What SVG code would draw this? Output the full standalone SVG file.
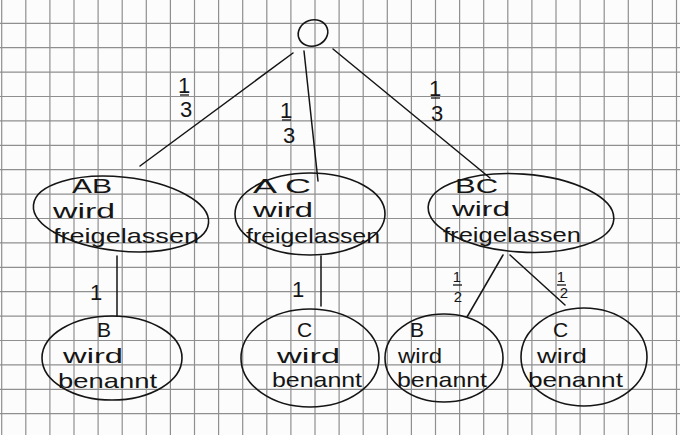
<svg xmlns="http://www.w3.org/2000/svg" width="680" height="435" viewBox="0 0 680 435">
<style>
.grid{stroke:#8f8f8f;stroke-width:1.2;fill:none}
.node{fill:none;stroke:#151515;stroke-width:1.6}
.edge{stroke:#151515;stroke-width:1.5;fill:none;stroke-linecap:round}
.t{font-family:"Liberation Sans",Arial,sans-serif;font-size:21px;fill:#151515}
.f{font-family:"Liberation Sans",Arial,sans-serif;font-size:22px;fill:#151515;text-anchor:middle}
.h{font-size:15px}
.bar{stroke:#151515;stroke-width:1.3}
</style>
<rect width="680" height="435" fill="#fcfcfc"/>
<path class="grid" d="M1.7 0V435M25.8 0V435M49.9 0V435M74 0V435M98.1 0V435M122.2 0V435M146.3 0V435M170.4 0V435M194.5 0V435M218.6 0V435M242.7 0V435M266.8 0V435M290.9 0V435M315 0V435M339.1 0V435M363.2 0V435M387.3 0V435M411.4 0V435M435.5 0V435M459.6 0V435M483.7 0V435M507.8 0V435M531.9 0V435M556 0V435M580.1 0V435M604.2 0V435M628.3 0V435M652.4 0V435M676.5 0V435
M0 23.3H680M0 47.7H680M0 72.1H680M0 96.5H680M0 120.9H680M0 145.3H680M0 169.7H680M0 194.1H680M0 218.5H680M0 242.9H680M0 267.3H680M0 291.7H680M0 316.1H680M0 340.5H680M0 364.9H680M0 389.3H680M0 413.7H680"/>
<g id="connectors">
<line class="edge" x1="293" y1="53" x2="140" y2="166"/>
<line class="edge" x1="304" y1="51" x2="318" y2="181"/>
<line class="edge" x1="333" y1="49" x2="490" y2="178"/>
<line class="edge" x1="117" y1="256" x2="117" y2="316"/>
<line class="edge" x1="321" y1="256" x2="321" y2="306"/>
<line class="edge" x1="503" y1="255" x2="467" y2="317"/>
<line class="edge" x1="510" y1="255" x2="565" y2="305"/>
<g id="edge-labels">
<text class="f" x="184" y="93">1</text><line class="bar" x1="180" y1="95" x2="189" y2="95"/><text class="f" x="186" y="117">3</text>
<text class="f" x="286" y="118">1</text><line class="bar" x1="282" y1="120" x2="291" y2="120"/><text class="f" x="289" y="143">3</text>
<text class="f" x="435" y="96">1</text><line class="bar" x1="431" y1="98" x2="440" y2="98"/><text class="f" x="437" y="121">3</text>
<text class="f" x="96" y="300">1</text>
<text class="f" x="298" y="297">1</text>
<text class="f h" x="457" y="282">1</text><line class="bar" x1="453" y1="285" x2="462" y2="285"/><text class="f h" x="458" y="302">2</text>
<text class="f h" x="561" y="282">1</text><line class="bar" x1="557" y1="285" x2="566" y2="285"/><text class="f h" x="564" y="298">2</text>
</g>
</g>
<g id="root">
<ellipse class="node" cx="313" cy="33" rx="15" ry="13" transform="rotate(-20 313 33)"/>
</g>
<g id="AB">
<ellipse class="node" cx="121" cy="214" rx="88" ry="37" transform="rotate(6 121 214)"/>
<text class="t" x="72" y="193" textLength="40" lengthAdjust="spacingAndGlyphs">AB</text>
<text class="t" x="53" y="218" textLength="62" lengthAdjust="spacingAndGlyphs">wird</text>
<text class="t" x="53" y="243" textLength="146" lengthAdjust="spacingAndGlyphs">freigelassen</text>
</g>
<g id="AC">
<ellipse class="node" cx="310" cy="214" rx="75" ry="41"/>
<text class="t" x="253" y="193" textLength="58" lengthAdjust="spacingAndGlyphs">A C</text>
<text class="t" x="253" y="217" textLength="60" lengthAdjust="spacingAndGlyphs">wird</text>
<text class="t" x="246" y="243" textLength="134" lengthAdjust="spacingAndGlyphs">freigelassen</text>
</g>
<g id="BC">
<ellipse class="node" cx="521" cy="213" rx="93" ry="39" transform="rotate(4 521 213)"/>
<text class="t" x="455" y="193" textLength="43" lengthAdjust="spacingAndGlyphs">BC</text>
<text class="t" x="452" y="216" textLength="58" lengthAdjust="spacingAndGlyphs">wird</text>
<text class="t" x="443" y="242" textLength="138" lengthAdjust="spacingAndGlyphs">freigelassen</text>
</g>
<g id="B1">
<ellipse class="node" cx="112" cy="358" rx="70" ry="42"/>
<text class="t" x="97" y="337">B</text>
<text class="t" x="63" y="363" textLength="60" lengthAdjust="spacingAndGlyphs">wird</text>
<text class="t" x="58" y="388" textLength="99" lengthAdjust="spacingAndGlyphs">benannt</text>
</g>
<g id="C1">
<ellipse class="node" cx="310" cy="358" rx="69" ry="49"/>
<text class="t" x="297" y="337">C</text>
<text class="t" x="277" y="363" textLength="63" lengthAdjust="spacingAndGlyphs">wird</text>
<text class="t" x="272" y="387" textLength="90" lengthAdjust="spacingAndGlyphs">benannt</text>
</g>
<g id="B2">
<ellipse class="node" cx="444" cy="358" rx="59" ry="44"/>
<text class="t" x="410" y="337">B</text>
<text class="t" x="398" y="363" textLength="44" lengthAdjust="spacingAndGlyphs">wird</text>
<text class="t" x="397" y="387" textLength="90" lengthAdjust="spacingAndGlyphs">benannt</text>
</g>
<g id="C2">
<ellipse class="node" cx="584" cy="357" rx="63" ry="49"/>
<text class="t" x="553" y="337">C</text>
<text class="t" x="537" y="363" textLength="50" lengthAdjust="spacingAndGlyphs">wird</text>
<text class="t" x="528" y="387" textLength="95" lengthAdjust="spacingAndGlyphs">benannt</text>
</g>
</svg>
